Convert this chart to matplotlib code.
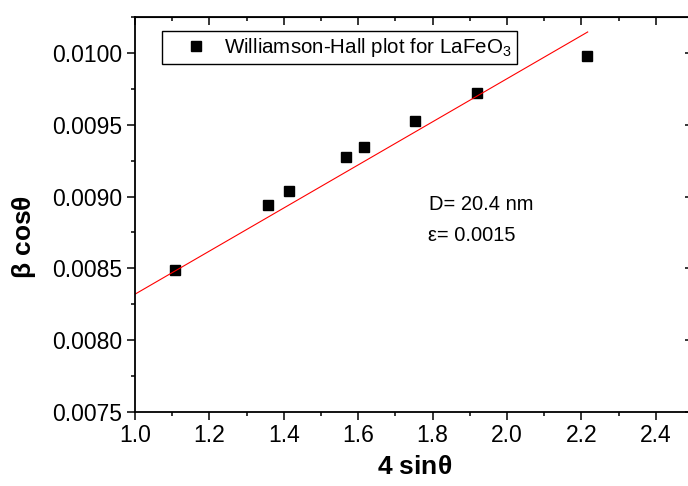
import numpy as np
import matplotlib
matplotlib.use('Agg')
import matplotlib.pyplot as plt
from matplotlib.ticker import MultipleLocator

plt.rcParams['font.family'] = ['Liberation Sans', 'DejaVu Sans']
plt.rcParams['mathtext.default'] = 'regular'

# Williamson-Hall data for LaFeO3
four_sin_theta = [1.108, 1.357, 1.413, 1.568, 1.616, 1.753, 1.919, 2.216]
beta_cos_theta = [0.008486, 0.008942, 0.009037, 0.009276, 0.009345, 0.009528, 0.009722, 0.009981]

# linear fit: slope = strain, intercept = K*lambda/D
strain = 0.0015
intercept = 0.00682
fit_x = [1.0, 2.217]

fig = plt.figure(figsize=(6.88, 4.86), dpi=100)
ax = fig.add_axes([0.1962, 0.1523, 0.811, 0.8128])

ax.plot(four_sin_theta, beta_cos_theta, 's', color='black', ms=7,
        label='Williamson-Hall plot for LaFeO$_3$')
fx = np.array(fit_x)
ax.plot(fx, strain * fx + intercept, color='red', lw=0.8)

ax.set_xlim(1.0, 2.5)
ax.set_ylim(0.0075, 0.01025)
ax.xaxis.set_major_locator(MultipleLocator(0.2))
ax.xaxis.set_minor_locator(MultipleLocator(0.1))
ax.yaxis.set_major_locator(MultipleLocator(0.0005))
ax.yaxis.set_minor_locator(MultipleLocator(0.00025))
ax.yaxis.set_major_formatter(matplotlib.ticker.FormatStrFormatter('%.4f'))

for s in ax.spines.values():
    s.set_linewidth(1.3)

ax.tick_params(which='both', direction='out', top=False, right=False,
               width=1.1, labelsize=16.5)
ax.tick_params(which='major', length=5.5)
ax.tick_params(which='minor', length=3)

# inward ticks on top and right, Origin style
sec_x = ax.secondary_xaxis('top')
sec_x.xaxis.set_major_locator(MultipleLocator(0.2))
sec_x.xaxis.set_minor_locator(MultipleLocator(0.1))
sec_x.tick_params(which='both', direction='in', labeltop=False, width=1.1)
sec_x.tick_params(which='major', length=5.5)
sec_x.tick_params(which='minor', length=3)
sec_y = ax.secondary_yaxis('right')
sec_y.yaxis.set_major_locator(MultipleLocator(0.0005))
sec_y.yaxis.set_minor_locator(MultipleLocator(0.00025))
sec_y.tick_params(which='both', direction='in', labelright=False, width=1.1)
sec_y.tick_params(which='major', length=5.5)
sec_y.tick_params(which='minor', length=3)

fig.text(415 / 688, 1 - 467 / 486, r'4 sin$\theta$', ha='center', va='center',
         fontsize=19, fontweight='bold')
fig.text(24 / 688, 1 - 237 / 486, r'$\beta$ cos$\theta$', ha='center', va='center',
         rotation=90, fontsize=19, fontweight='bold')

ax.text(429 / 688, 1 - 204 / 486, 'D= 20.4 nm', transform=fig.transFigure,
        fontsize=14.5, va='center', ha='left')
ax.text(428 / 688, 1 - 235 / 486, 'ε= 0.0015', transform=fig.transFigure,
        fontsize=14.5, va='center', ha='left')

leg = ax.legend(loc='upper left', bbox_to_anchor=(0.048, 0.965), borderaxespad=0,
                fontsize=14.8, fancybox=False, edgecolor='black', framealpha=1,
                borderpad=0.25, handlelength=2.8, handletextpad=0.0, numpoints=1)
leg.get_frame().set_linewidth(1.0)

fig.savefig('out.png', dpi=100)
